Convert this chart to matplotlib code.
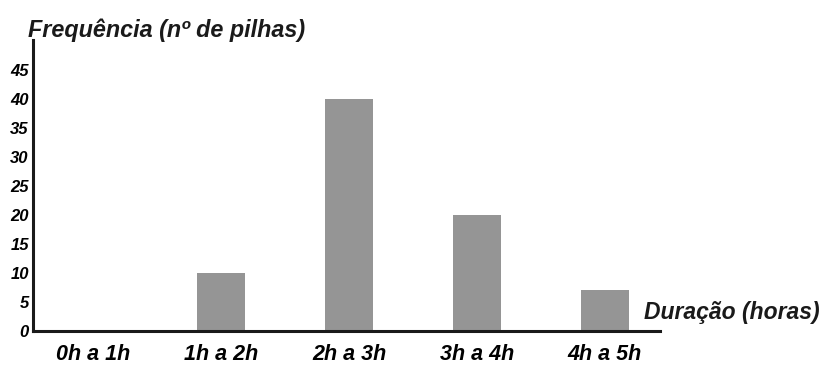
import matplotlib
matplotlib.use("Agg")
import matplotlib.pyplot as plt
from matplotlib import font_manager

categories = ["0h a 1h", "1h a 2h", "2h a 3h", "3h a 4h", "4h a 5h"]
values = [0, 10, 40, 20, 7]
yticks = [0, 5, 10, 15, 20, 25, 30, 35, 40, 45]

plt.rcParams['font.family'] = ['Liberation Sans', 'DejaVu Sans']
names = {f.name for f in font_manager.fontManager.ttflist}
narrow = 'Liberation Sans Narrow' if 'Liberation Sans Narrow' in names else 'Liberation Sans'
ysize = 14.5 if narrow == 'Liberation Sans Narrow' else 12

fig = plt.figure(figsize=(8.27, 3.67), dpi=100)
ax = fig.add_axes([33/827, 1-331/367, (660-33)/827, (331-40)/367])

x = list(range(len(categories)))
ax.bar(x, values, width=0.375, color="#959595", zorder=1)

ax.set_xlim(-0.47, 4.43)
ax.set_ylim(0, 50.2)
ax.set_yticks(yticks)
ax.set_yticklabels([str(v) for v in yticks], fontsize=ysize, fontweight='bold',
                   fontstyle='italic', family=[narrow, 'DejaVu Sans'])
ax.set_xticks(x)
ax.set_xticklabels(categories, fontsize=15.5, fontweight='bold', fontstyle='italic')
ax.tick_params(axis='both', length=0)
ax.tick_params(axis='y', pad=3)
ax.tick_params(axis='x', pad=9)

for s in ['top', 'right']:
    ax.spines[s].set_visible(False)
for s in ['left', 'bottom']:
    ax.spines[s].set_linewidth(2.2)
    ax.spines[s].set_color('#1a1a1a')
    ax.spines[s].set_zorder(3)

fig.text(28/827, 1-30/367, "Frequência (nº de pilhas)", fontsize=16.8, fontweight='bold',
         fontstyle='italic', ha='left', va='center', color='#1a1a1a')
fig.text(644/827, 1-313/367, "Duração (horas)", fontsize=16.5, fontweight='bold',
         fontstyle='italic', ha='left', va='center', color='#1a1a1a')

fig.savefig("out.png", dpi=100)
